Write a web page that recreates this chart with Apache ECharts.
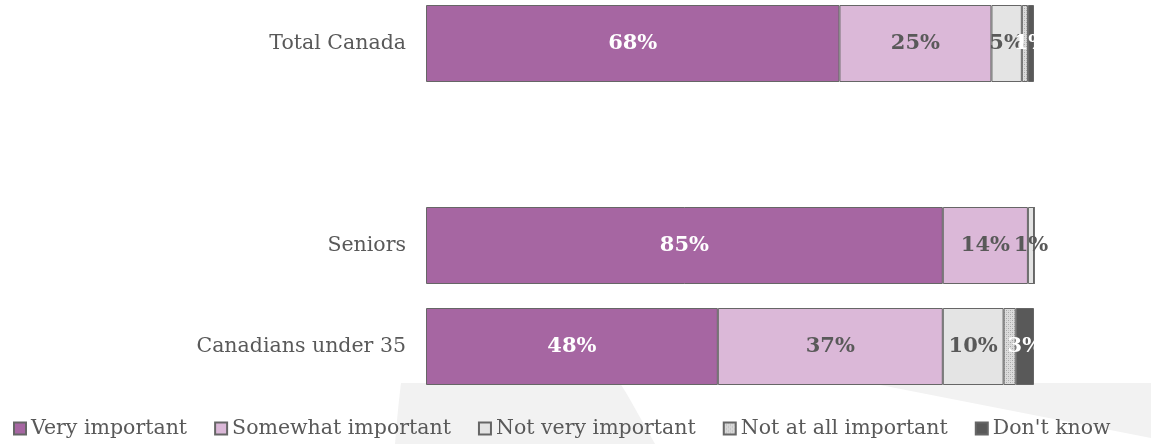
<!DOCTYPE html>
<html>
<head>
<meta charset="utf-8">
<script src="https://cdn.jsdelivr.net/npm/echarts@6/dist/echarts.min.js"></script>
<style>
  html, body { margin: 0; padding: 0; background: #ffffff; }
  #chart { width: 1151px; height: 444px; }
</style>
</head>
<body>
<div id="chart"></div>
<script>
// Survey rows (blank row spaces the total apart from the age groups)
const categories = ['Total Canada', '', 'Seniors', 'Canadians under 35'];
const seriesNames = ['Very important', 'Somewhat important', 'Not very important', 'Not at all important', "Don't know"];

const veryImportant      = [68, null, 85, 48];
const somewhatImportant  = [25, null, 14, 37];
const notVeryImportant   = [5,  null, 1,  10];
const notAtAllImportant  = [1,  null, 0,  2];
const dontKnow           = [1,  null, 0,  3];

const FONT = '"DejaVu Serif", "Liberation Serif", serif';
const GREY_TEXT = '#595959';
const EDGE = '#666666';

// Fine stipple used for "Not at all important"
function stipple() {
  const c = document.createElement('canvas');
  c.width = 4; c.height = 4;
  const g = c.getContext('2d');
  g.fillStyle = '#dcdcdc';
  g.fillRect(0, 0, 4, 4);
  g.fillStyle = '#a8a8a8';
  g.fillRect(0, 0, 1, 1);
  g.fillRect(2, 2, 1, 1);
  g.fillStyle = '#c4c4c4';
  g.fillRect(2, 0, 1, 1);
  g.fillRect(0, 2, 1, 1);
  return c;
}

const fills = [
  '#a666a2',
  '#dbb8d8',
  '#e4e4e4',
  { image: stipple(), repeat: 'repeat' },
  '#595959'
];
const labelColors = ['#ffffff', GREY_TEXT, GREY_TEXT, GREY_TEXT, '#ffffff'];
const showLabel = [true, true, true, false, true];
const values = [veryImportant, somewhatImportant, notVeryImportant, notAtAllImportant, dontKnow];

const series = seriesNames.map((name, i) => ({
  name: name,
  type: 'bar',
  stack: 'total',
  barWidth: 77,
  data: values[i],
  itemStyle: { color: fills[i], borderColor: EDGE, borderWidth: 1 },
  emphasis: { disabled: true },
  label: {
    show: showLabel[i],
    position: 'inside',
    color: labelColors[i],
    fontFamily: FONT,
    fontWeight: 'bold',
    fontSize: 21,
    formatter: p => (p.value ? p.value + '%' : '')
  }
}));

const chart = echarts.init(document.getElementById('chart'), null, { renderer: 'canvas' });
chart.setOption({
  animation: false,
  backgroundColor: '#ffffff',
  graphic: [
    {
      type: 'polygon', z: -10, silent: true,
      shape: { points: [[401, 383], [620, 383], [628, 396], [637, 412], [646, 428], [655, 444], [395, 444], [397, 420], [399, 400]] },
      style: { fill: '#f2f2f2' }
    },
    {
      type: 'polygon', z: -10, silent: true,
      shape: { points: [[870, 383], [1151, 383], [1151, 438]] },
      style: { fill: '#f2f2f2' }
    }
  ],
  grid: { left: 426, right: 117, top: 43.5, height: 303, containLabel: false },
  xAxis: {
    type: 'value', min: 0, max: 100,
    show: false
  },
  yAxis: {
    type: 'category',
    inverse: true,
    boundaryGap: false,
    data: categories,
    axisLine: { show: false },
    axisTick: { show: false },
    splitLine: { show: false },
    axisLabel: { color: GREY_TEXT, fontFamily: FONT, fontSize: 20.5, margin: 20 }
  },
  legend: {
    data: seriesNames,
    left: 13,
    top: 416,
    padding: 0,
    itemWidth: 12,
    itemHeight: 12,
    itemGap: 27,
    icon: 'rect',
    selectedMode: false,
    textStyle: { color: GREY_TEXT, fontFamily: FONT, fontSize: 20.5, lineHeight: 25 }
  },
  series: series
});
</script>
</body>
</html>
